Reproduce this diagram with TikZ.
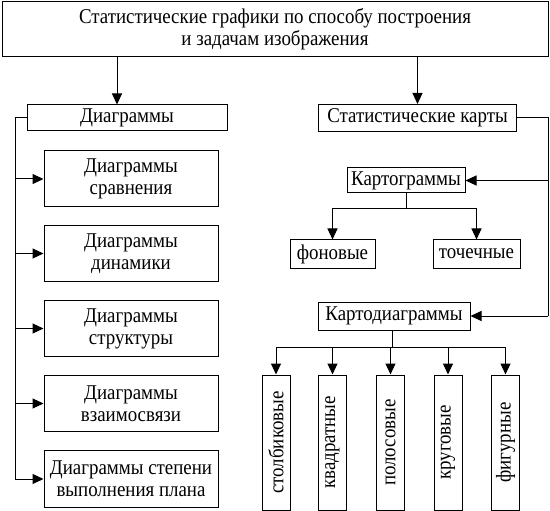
\documentclass[tikz,border=0pt]{standalone}
\usepackage{fontspec}
\setmainfont[FakeStretch=0.9]{Liberation Serif}
\usetikzlibrary{arrows.meta}

\begin{document}
\begin{tikzpicture}[x=1pt, y=-1pt, line width=1pt,
    arr/.style={-{Triangle[length=11pt,width=10pt]}},
    box/.style={draw, align=center, inner sep=1pt, font=\fontsize{21}{22}\selectfont},
    vbox/.style={box, rotate=90, minimum width=135pt, minimum height=28pt}]
  \useasboundingbox (0,0) rectangle (550,511);

  % Блоки
  \node[box, minimum width=546pt, minimum height=55pt] (top) at (275,29.5)
    {Статистические графики по способу построения\\и задачам изображения};
  \node[box, minimum width=200pt, minimum height=26pt] (diag) at (127,118) {Диаграммы};
  \node[box, minimum width=198pt, minimum height=27pt] (karty) at (417.5,118) {Статистические карты};

  \node[box, minimum width=174pt, minimum height=56pt] (d1) at (131,179) {Диаграммы\\сравнения};
  \node[box, minimum width=174pt, minimum height=56pt] (d2) at (131,253.5) {Диаграммы\\динамики};
  \node[box, minimum width=174pt, minimum height=56pt] (d3) at (131,328.5) {Диаграммы\\структуры};
  \node[box, minimum width=174pt, minimum height=56pt] (d4) at (131,403.5) {Диаграммы\\взаимосвязи};
  \node[box, minimum width=174pt, minimum height=57pt] (d5) at (131,479) {Диаграммы степени\\выполнения плана};

  \node[box, minimum width=118pt, minimum height=25pt] (kartogr) at (406,180.5) {Картограммы};
  \node[box, minimum width=85pt, minimum height=28pt] (fon) at (332.5,254) {фоновые};
  \node[box, minimum width=87pt, minimum height=28pt] (toch) at (476.5,254) {точечные};
  \node[box, minimum width=152pt, minimum height=28pt] (kartod) at (394,316) {Картодиаграммы};

  \node[vbox] (v1) at (276,442.5) {столбиковые};
  \node[vbox] (v2) at (332.5,442.5) {квадратные};
  \node[vbox] (v3) at (390.5,442.5) {полосовые};
  \node[vbox] (v4) at (448,442.5) {круговые};
  \node[vbox] (v5) at (505.5,442.5) {фигурные};

  % Узлы линий
  \coordinate (a1) at (117,0);
  \coordinate (lb) at (15,118);
  \coordinate (rb) at (548,118);
  \coordinate (kg) at (406,209);
  \coordinate (kd) at (392,347);

  % Стрелки от заголовка
  \draw[arr] (top.south -| a1) -- (diag.north -| a1);
  \draw[arr] (top.south -| karty) -- (karty);

  % Диаграммы
  \draw (diag.west) -- (lb) -- (lb |- d5);
  \foreach \n in {d1,d2,d3,d4,d5}
    \draw[arr] (lb |- \n) -- (\n);

  % Статистические карты
  \draw (karty.east) -- (rb) -- (rb |- kartod);
  \draw[arr] (rb |- kartogr) -- (kartogr);
  \draw[arr] (rb |- kartod) -- (kartod);

  \draw (kartogr.south) -- (kg);
  \draw[arr] (kg) -| (fon);
  \draw[arr] (kg) -| (toch);

  \draw (kartod.south -| kd) -- (kd);
  \foreach \n in {v1,v2,v3,v4,v5}
    \draw[arr] (kd) -| (\n);
\end{tikzpicture}
\end{document}
